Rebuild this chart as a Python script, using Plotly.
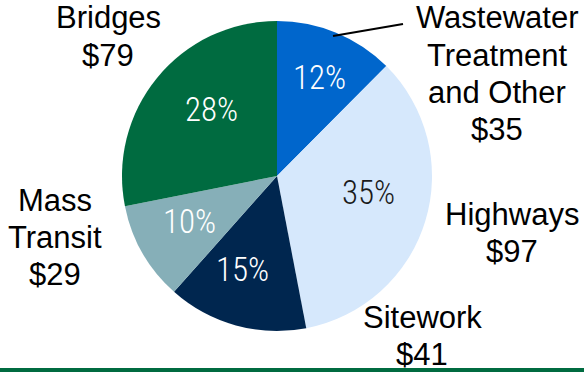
import plotly.graph_objects as go

# Construction spending by category (billions of dollars)
categories = ["Wastewater Treatment and Other", "Highways", "Sitework", "Mass Transit", "Bridges"]
label_lines = [["Wastewater", "Treatment", "and Other"], ["Highways"], ["Sitework"], ["Mass", "Transit"], ["Bridges"]]
values = [35, 97, 41, 29, 79]
colors = ["#0066CC", "#D6E8FC", "#00264F", "#86AFB8", "#006B40"]
pct_colors = ["white", "#1a1a1a", "white", "white", "white"]

W, H = 584, 372
cx, cy, r = 277, 176, 155  # pie centre and radius in pixels

fig = go.Figure(go.Pie(
    labels=categories,
    values=values,
    sort=False,
    direction="clockwise",
    rotation=0,
    marker=dict(colors=colors, line=dict(width=0)),
    textinfo="none",
    showlegend=False,
    hoverinfo="label+value+percent",
    domain=dict(x=[(cx - r) / W, (cx + r) / W], y=[(H - cy - r) / H, (H - cy + r) / H]),
))

# Percentage labels inside the slices (pixel centres)
pct_pos = [(319, 77), (368, 192), (242, 269), (189, 221), (211, 110)]
total = sum(values)
for v, (x, y), c in zip(values, pct_pos, pct_colors):
    fig.add_annotation(
        x=x / W, y=1 - y / H, xref="paper", yref="paper",
        text=f"{round(100 * v / total)}%", showarrow=False,
        xanchor="center", yanchor="middle",
        font=dict(family="Roboto Condensed, sans-serif", size=33, weight=300, color=c),
    )

# Outside category labels: (centre x, first-line centre y) in pixels
label_pos = [(497, 18), (512, 214), (422, 317), (55, 200), (108, 18)]
line_gap = 37.3
for lines, val, (x, y0) in zip(label_lines, values, label_pos):
    for i, line in enumerate(lines + [f"${val}"]):
        fig.add_annotation(
            x=x / W, y=1 - (y0 + i * line_gap) / H, xref="paper", yref="paper",
            text=line, showarrow=False,
            xanchor="center", yanchor="middle",
            font=dict(family="Liberation Sans, Arial, sans-serif", size=31, color="black"),
        )

# Leader line for the wastewater label
fig.add_shape(type="line", xref="paper", yref="paper",
              x0=333 / W, y0=1 - 36 / H, x1=403 / W, y1=1 - 24 / H,
              line=dict(color="black", width=2))

# Green rule along the bottom edge
fig.add_shape(type="rect", xref="paper", yref="paper",
              x0=0, x1=1, y0=0, y1=4 / H,
              fillcolor="#006B40", line=dict(width=0))

fig.update_layout(
    width=W, height=H,
    margin=dict(l=0, r=0, t=0, b=0),
    paper_bgcolor="white", plot_bgcolor="white",
)

fig.write_html("out.html")
